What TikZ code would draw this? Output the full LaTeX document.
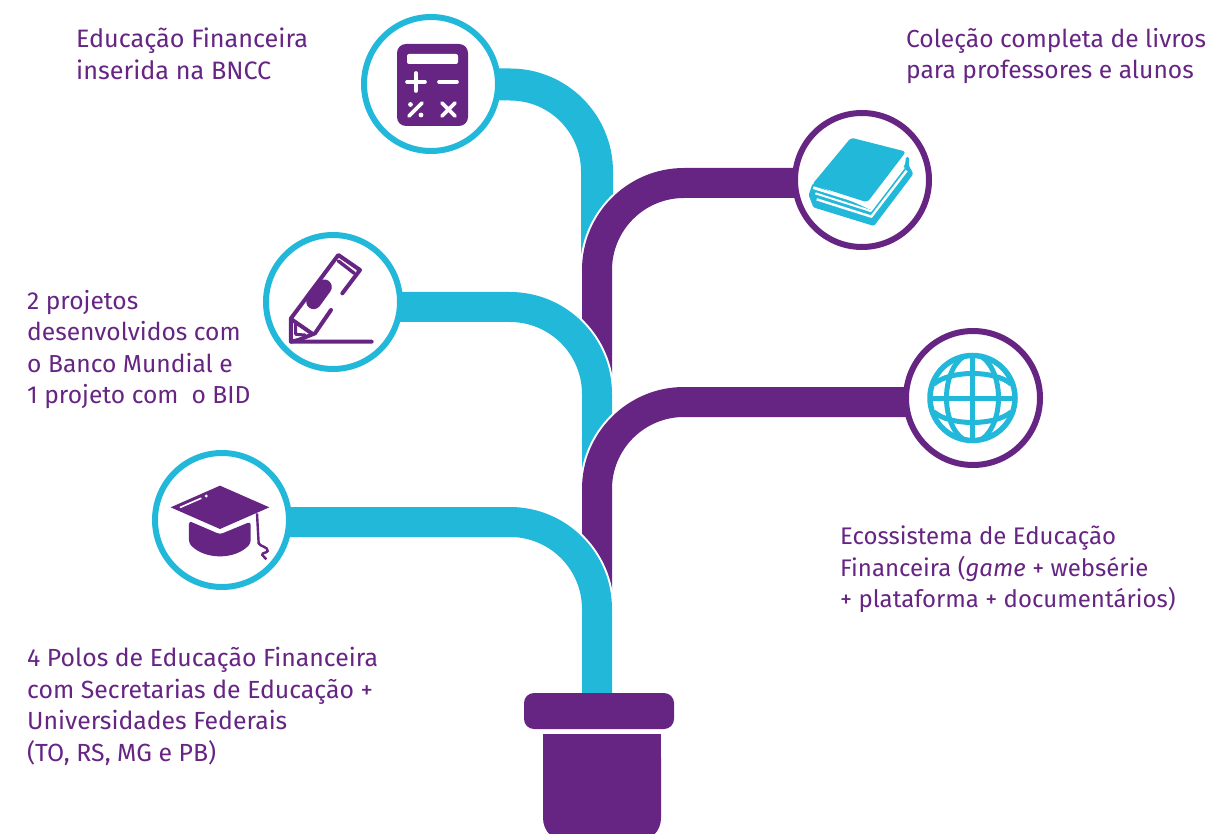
\documentclass[tikz,border=0pt]{standalone}
\usepackage{fontspec}
\setmainfont{Fira Sans}
\usetikzlibrary{backgrounds,calc}
\definecolor{roxo}{HTML}{662483}
\definecolor{ciano}{HTML}{22B8DA}
\newcommand{\lblsize}[1]{\fontsize{#1}{31.5}\selectfont}
\tikzset{
  x=1pt,y=-1pt,
  ring/.style={circle,draw=#1,fill=white,line width=6pt,minimum size=134pt,inner sep=0pt},
  stemline/.style={draw=#1,line width=30pt,rounded corners=87pt},
  halo/.style={draw=white,line width=34pt,rounded corners=87pt},
  label/.style={anchor=north west,align=left,inner sep=0pt,text=roxo,font=\lblsize{24.6}},
  glyph/.style={line cap=round,line join=round},
}
\begin{document}
\begin{tikzpicture}
\useasboundingbox (0,0) rectangle (1210,834);
% rings
\node[ring=ciano] (calc) at (431,84) {};
\node[ring=roxo] (book) at (862,180) {};
\node[ring=ciano] (pen) at (333,302) {};
\node[ring=roxo] (globe) at (973,398) {};
\node[ring=ciano] (cap) at (222,520) {};
% pot
\node[fill=roxo,rounded corners=10pt,minimum width=150pt,minimum height=36pt,inner sep=0pt] (rim) at (599,711) {};
\begin{scope}
\clip (0,0) rectangle (1210,834);
\fill[roxo,rounded corners=24pt] (543,734) -- (661,734) -- (661,842) -- (543,842) -- cycle;
\fill[roxo] (543,734) rectangle (661,790);
\end{scope}
% junction coordinates
\coordinate (t1) at (597,258);
\coordinate (b1) at (597,84.5);
\coordinate (t2) at (597,375);
\coordinate (b2) at (597,183);
\coordinate (t3) at (597,472);
\coordinate (b3) at (597,307);
\coordinate (t4) at (597,590);
\coordinate (b4) at (597,402);
\coordinate (b5) at (597,522);
\begin{scope}[on background layer]
\draw[stemline=ciano,line width=32pt] (t1) |- (calc |- b1);
\draw[halo] (t2) |- (book |- b2);
\draw[stemline=roxo] (t2) |- (book |- b2);
\draw[halo] (t3) |- (pen |- b3);
\draw[stemline=ciano] (t3) |- (pen |- b3);
\draw[halo] (t4) |- (globe |- b4);
\draw[stemline=roxo] (t4) |- (globe |- b4);
\draw[halo] (b5 |- rim.north) |- (cap |- b5);
\draw[stemline=ciano] (b5 |- rim.north) |- (cap |- b5);
\end{scope}
% calculator icon
\fill[roxo,rounded corners=9pt] (397,44) rectangle (468,126);
\fill[white,rounded corners=2pt] (407,54) rectangle (458,64);
\begin{scope}[white,glyph,line width=3.6pt]
\draw (407,82) -- (425,82) (416,73) -- (416,91);
\draw (439,82) -- (457,82);
\draw (409,116) -- (422,103);
\draw (442,103) -- (455,116) (455,103) -- (442,116);
\fill (410.5,104.5) circle (2.4) (421,115) circle (2.4);
\end{scope}
% book icon
\begin{scope}[shift={(780,100)},x=0.3333pt,y=-0.3333pt]
\fill[ciano,rounded corners=1.5pt] (98,250) -- (86,285) -- (100,322) -- (282,378) -- (400,222) -- (386,195) -- (388,172) -- (378,170) -- (375,195) -- (272,330) -- cycle;
\draw[white,line width=2.8pt,line join=round] (100,263) -- (266,315) -- (372,176);
\draw[white,line width=2.4pt,line join=round] (110,298) -- (274,350) -- (380,212);
\draw[white,line width=2pt,line join=round] (106,280) -- (272,333) -- (372,202);
\fill[ciano,rounded corners=3pt] (213,113) -- (378,155) -- (262,307) -- (96,254) -- cycle;
\end{scope}
% pen icon
\begin{scope}[shift={(255,225)},x=0.3333pt,y=-0.3333pt]
\draw[roxo,glyph,line width=4pt] (262,205) -- (315,135) -- (250,90) -- (108,280) -- (108,350) -- (350,350);
\draw[roxo,glyph,line width=4pt] (228,255) -- (180,325) -- (130,345) -- (108,350);
\draw[roxo,glyph,line width=4pt] (108,282) -- (170,325);
\draw[roxo,glyph,line width=3pt] (122,298) -- (122,328) -- (150,330);
\draw[roxo,glyph,line width=3.4pt] (250,108) -- (298,145);
\draw[roxo,line cap=round,line width=15pt] (208,186) -- (176,230);
\end{scope}
% globe icon
\begin{scope}
\fill[white] (972.5,398) circle (43);
\begin{scope}
\clip (972.5,398) circle (44);
\begin{scope}[ciano,line width=5pt]
\draw (972.5,353) -- (972.5,443);
\draw (927,398) -- (1018,398);
\draw (972.5,398) ellipse [x radius=26,y radius=44];
\draw (934,384) .. controls (950,370) and (995,370) .. (1011,384);
\draw (934,412) .. controls (950,426) and (995,426) .. (1011,412);
\end{scope}
\end{scope}
\draw[ciano,line width=5.5pt] (972.5,398) circle (42.5);
\end{scope}
% cap icon
\begin{scope}[shift={(145,445)},x=0.3333pt,y=-0.3333pt]
\fill[roxo,line join=round] (225,122) -- (373,187) -- (225,252) -- (77,187) -- cycle;
\fill[roxo,rounded corners=3pt] (132,228) -- (225,268) -- (317,230) -- (317,295) .. controls (270,345) and (180,345) .. (132,295) -- cycle;
\draw[white,glyph,line width=1.6pt] (106,187) -- (168,160);
\fill[white] (184,153) circle (5);
\draw[roxo,line width=2.4pt] (336,205) -- (341,295) .. controls (345,305) and (370,305) .. (368,318) .. controls (365,325) and (350,322) .. (352,330) -- (364,343);
\end{scope}
% labels
\node[label,font=\lblsize{25.2}] (t-a) at (76,28) {Educação Financeira\\inserida na BNCC};
\node[label] (t-b) at (906,28) {Coleção completa de livros\\para professores e alunos};
\node[label] (t-c) at (27,290) {2 projetos\\desenvolvidos com\\o Banco Mundial e\\1 projeto com\ \ o BID};
\node[label,font=\lblsize{24}] (t-d) at (840,526) {Ecossistema de Educação\\Financeira (\textit{game} + websérie\\+ plataforma + documentários)};
\node[label,font=\lblsize{24.8}] (t-e) at (27,647) {4 Polos de Educação Financeira\\com Secretarias de Educação +\\Universidades Federais\\(TO, RS, MG e PB)};
\end{tikzpicture}
\end{document}
